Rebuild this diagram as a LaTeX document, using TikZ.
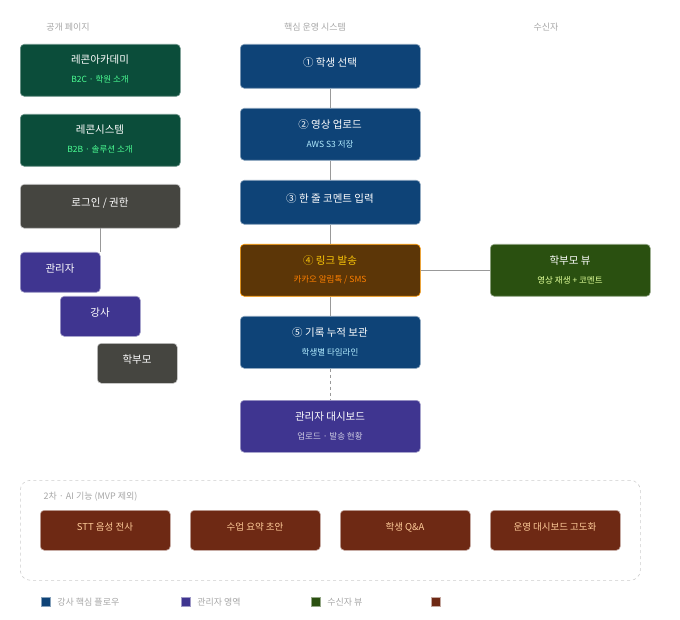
\documentclass[tikz,border=0pt]{standalone}
\usepackage{fontspec}
\setmainfont{Noto Sans CJK KR}
\usetikzlibrary{positioning}
\definecolor{acad}{HTML}{0B4D3A}
\definecolor{core}{HTML}{0E4377}
\definecolor{send}{HTML}{5C3607}
\definecolor{admin}{HTML}{3F3590}
\definecolor{grey}{HTML}{454540}
\definecolor{recv}{HTML}{2A5010}
\definecolor{ai}{HTML}{6E2914}
\tikzset{
  box/.style={draw, rounded corners=4pt, line width=0.6pt, anchor=north west, inner sep=0pt},
  head/.style={text=black!35, font=\fontsize{9}{10}\selectfont},
  ttl/.style={text=white, font=\fontsize{10.5}{12}\selectfont},
  sub/.style={font=\fontsize{8.5}{10}\selectfont},
  link/.style={draw=black!40, line width=0.8pt},
  key/.style={draw, line width=0.6pt, minimum size=9pt, inner sep=0pt}
}
\begin{document}
\begin{tikzpicture}[x=1pt,y=-1pt]
  \useasboundingbox (0,0) rectangle (680,620);
  % column headers
  \node[head] (hpub)  at (68,27)  {공개 페이지};
  \node[head] (hcore) at (315,27) {핵심 운영 시스템};
  \node[head] (hrcv)  at (546,27) {수신자};

  % public pages
  \node[box, fill=acad, draw=acad!60!white, minimum width=160pt, minimum height=52pt] (acad) at (20,44) {};
  \node[ttl] at (100,60) {레콘아카데미};
  \node[sub, text=green!60!cyan!70!white] at (100,79) {B2C · 학원 소개};
  \node[box, fill=acad, draw=acad!60!white, minimum width=160pt, minimum height=52pt] (sys) at (20,114) {};
  \node[ttl] at (100,130) {레콘시스템};
  \node[sub, text=green!60!cyan!70!white] at (100,149) {B2B · 솔루션 소개};
  \node[box, fill=grey, draw=black!20, minimum width=160pt, minimum height=44pt] (login) at (20,184) {};
  \node[ttl] at (100,203) {로그인 / 권한};
  \node[box, fill=admin, draw=admin!50!white, minimum width=80pt, minimum height=40pt] (adm) at (20,252) {};
  \node[ttl] at (60,269) {관리자};
  \node[box, fill=admin, draw=admin!50!white, minimum width=80pt, minimum height=40pt] (tch) at (60,296) {};
  \node[ttl] at (100,313) {강사};
  \node[box, fill=grey, draw=black!20, minimum width=80pt, minimum height=40pt] (par) at (97,343) {};
  \node[ttl] at (137,360) {학부모};
  \coordinate (lgo) at (100,228);
  \coordinate (lgi) at (100,252);
  \draw[link] (lgo) -- (lgi);

  % core flow
  \node[box, fill=core, draw=core!50!white, minimum width=180pt, minimum height=44pt] (s1) at (240,44) {};
  \node[ttl] at (330,63) {① 학생 선택};
  \node[box, fill=core, draw=core!50!white, minimum width=180pt, minimum height=52pt] (s2) at (240,108) {};
  \node[ttl] at (330,125) {② 영상 업로드};
  \node[sub, text=blue!25!cyan!30!white] at (330,144) {AWS S3 저장};
  \node[box, fill=core, draw=core!50!white, minimum width=180pt, minimum height=44pt] (s3) at (240,180) {};
  \node[ttl] at (330,199) {③ 한 줄 코멘트 입력};
  \node[box, fill=send, draw=orange!80!yellow, minimum width=180pt, minimum height=52pt] (s4) at (240,244) {};
  \node[ttl, text=yellow!60!orange] at (330,261) {④ 링크 발송};
  \node[sub, text=orange] at (330,280) {카카오 알림톡 / SMS};
  \node[box, fill=core, draw=core!50!white, minimum width=180pt, minimum height=52pt] (s5) at (240,316) {};
  \node[ttl] at (330,333) {⑤ 기록 누적 보관};
  \node[sub, text=blue!25!cyan!30!white] at (330,352) {학생별 타임라인};
  \node[box, fill=admin, draw=admin!50!white, minimum width=180pt, minimum height=52pt] (dash) at (240,400) {};
  \node[ttl] at (330,417) {관리자 대시보드};
  \node[sub, text=admin!25!white] at (330,436) {업로드 · 발송 현황};
  \draw[link] (s1.south) -- (s2.north);
  \draw[link] (s2.south) -- (s3.north);
  \draw[link] (s3.south) -- (s4.north);
  \draw[link] (s4.south) -- (s5.north);
  \draw[link, dashed] (s5.south) -- (dash.north);

  % recipient
  \node[box, fill=recv, draw=recv!50!white, minimum width=160pt, minimum height=52pt] (pview) at (490,244) {};
  \node[ttl] at (570,261) {학부모 뷰};
  \node[sub, text=green!30!yellow!40!white] at (570,280) {영상 재생 + 코멘트};
  \draw[link] (s4.east) -- (pview.west);

  % phase 2
  \node[box, draw=black!20, dashed, rounded corners=10pt, minimum width=620pt, minimum height=100pt] (ph2) at (20,480) {};
  \node[head, anchor=west] at (40,497) {2차 · AI 기능 (MVP 제외)};
  \foreach \x/\n/\t in {40/stt/STT 음성 전사, 190/sum/수업 요약 초안, 340/qa/학생 Q\&A, 490/ops/운영 대시보드 고도화} {
    \node[box, fill=ai, draw=ai!40!white, minimum width=130pt, minimum height=40pt] (\n) at (\x,510) {};
    \node[sub, text=orange!40!white, font=\fontsize{9.5}{11}\selectfont] at (\x+65,527) {\t};
  }

  % legend
  \node[key, fill=core, draw=core!50!white] (k1) at (46,602) {};
  \node[head, right=3pt of k1] {강사 핵심 플로우};
  \node[key, fill=admin, draw=admin!50!white] (k2) at (186,602) {};
  \node[head, right=3pt of k2] {관리자 영역};
  \node[key, fill=recv, draw=recv!50!white] (k3) at (316,602) {};
  \node[head, right=3pt of k3] {수신자 뷰};
  \node[key, fill=ai, draw=ai!40!white] (k4) at (436,602) {};
\end{tikzpicture}
\end{document}
